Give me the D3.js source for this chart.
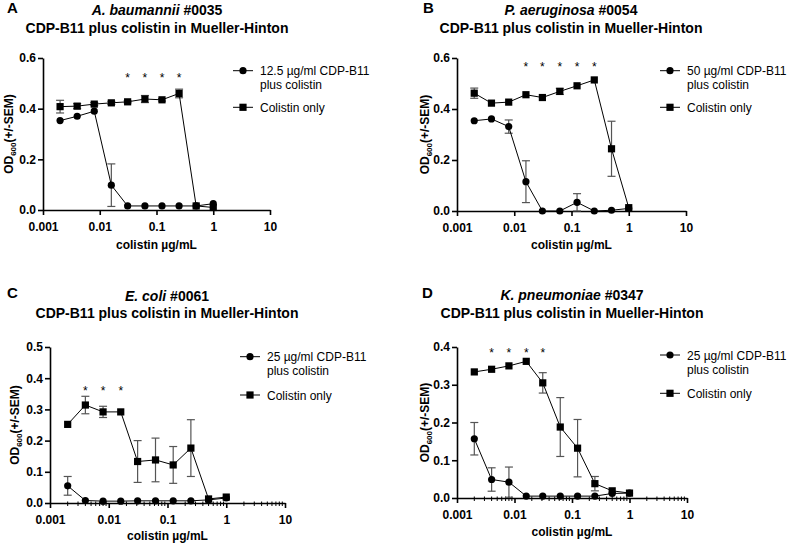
<!DOCTYPE html>
<html><head><meta charset="utf-8">
<script src="https://cdn.jsdelivr.net/npm/d3@7"></script>
<style>body{margin:0;background:#fff}svg{display:block}text{font-family:"Liberation Sans",Arial,sans-serif}</style>
</head><body>
<svg id="c" width="787" height="546"></svg>
<script>
const conc = [0.002,0.004,0.008,0.016,0.031,0.0625,0.125,0.25,0.5,1];
const xTicks = [0.001,0.01,0.1,1,10];
const xTickLabels = ["0.001","0.01","0.1","1","10"];

// Panel A
const aCircle    = [0.353,0.370,0.390,0.098,0.016,0.016,0.016,0.016,0.016,0.025];
const aCircleErr = [0,0,0,0.084,0,0,0,0,0,0];
const aSquare    = [0.408,0.410,0.418,0.423,0.427,0.438,0.435,0.460,0.016,0.010];
const aSquareErr = [0.025,0.010,0.006,0.006,0.004,0.014,0.005,0.017,0,0];
const aStars = [0.031,0.0625,0.125,0.25];
// Panel B
const bCircle    = [0.354,0.361,0.331,0.115,0.0,0.0,0.034,0.0,0.003,0.010];
const bCircleErr = [0,0,0.026,0.082,0,0,0.034,0,0,0];
const bSquare    = [0.462,0.423,0.427,0.456,0.445,0.469,0.491,0.514,0.244,0.013];
const bSquareErr = [0.02,0,0,0,0,0.012,0,0,0.108,0];
const bStars = [0.016,0.031,0.0625,0.125,0.25];
// Panel C
const cCircle    = [0.055,0.008,0.006,0.006,0.007,0.007,0.007,0.007,0.010,0.016];
const cCircleErr = [0.030,0,0,0,0,0,0,0,0,0];
const cSquare    = [0.252,0.314,0.292,0.292,0.133,0.138,0.122,0.176,0.013,0.019];
const cSquareErr = [0,0.028,0.018,0,0.067,0.070,0.059,0.091,0,0];
const cStars = [0.004,0.008,0.016];
// Panel D
const dCircle    = [0.157,0.049,0.042,0.005,0.005,0.005,0.005,0.005,0.012,0.013];
const dCircleErr = [0.043,0.031,0.040,0,0,0,0,0,0,0];
const dSquare    = [0.334,0.341,0.350,0.362,0.305,0.188,0.132,0.038,0.019,0.013];
const dSquareErr = [0,0,0,0,0.027,0.078,0.076,0.019,0,0];
const dStars = [0.004,0.008,0.016,0.031];

const panels = [
  {letter:"A", org:"A. baumannii", num:" #0035", dose:"12.5 µg/ml CDP-B11",
   circle:aCircle, circleErr:aCircleErr, square:aSquare, squareErr:aSquareErr, stars:aStars, starLevel:0.53,
   ymax:0.6, ystep:0.2, minor:false,
   x0:43, x1:270, yb:210, yt:58, lx:233, ly1:70.7, ly2:107.3,
   letterX:7, letterY:13, tx:157, t1y:15, t2y:33, ylabX:13, xtitleY:249},
  {letter:"B", org:"P. aeruginosa", num:" #0054", dose:"50 µg/ml CDP-B11",
   circle:bCircle, circleErr:bCircleErr, square:bSquare, squareErr:bSquareErr, stars:bStars, starLevel:0.574,
   ymax:0.6, ystep:0.2, minor:false,
   x0:457, x1:686, yb:211, yt:58, lx:660, ly1:70.7, ly2:107.3,
   letterX:423, letterY:13, tx:571, t1y:15, t2y:33, ylabX:429, xtitleY:249},
  {letter:"C", org:"E. coli", num:" #0061", dose:"25 µg/ml CDP-B11",
   circle:cCircle, circleErr:cCircleErr, square:cSquare, squareErr:cSquareErr, stars:cStars, starLevel:0.367,
   ymax:0.5, ystep:0.1, minor:true,
   x0:50, x1:285, yb:503, yt:347, lx:240, ly1:356.7, ly2:395,
   letterX:7, letterY:298, tx:167, t1y:301, t2y:318, ylabX:19, xtitleY:540},
  {letter:"D", org:"K. pneumoniae", num:" #0347", dose:"25 µg/ml CDP-B11",
   circle:dCircle, circleErr:dCircleErr, square:dSquare, squareErr:dSquareErr, stars:dStars, starLevel:0.392,
   ymax:0.4, ystep:0.1, minor:true,
   x0:457, x1:687, yb:498, yt:347, lx:660, ly1:355, ly2:393.3,
   letterX:422, letterY:298, tx:572, t1y:300, t2y:318, ylabX:429, xtitleY:536}
];

const svg = d3.select("#c");
const errColor = "#555";

panels.forEach(p => {
  const g = svg.append("g");
  const x = d3.scaleLog().domain([0.001,10]).range([p.x0,p.x1]);
  const y = d3.scaleLinear().domain([0,p.ymax]).range([p.yb,p.yt]);

  // letter + titles
  g.append("text").attr("x",p.letterX).attr("y",p.letterY).attr("font-size",15).attr("font-weight","bold").text(p.letter);
  const t1 = g.append("text").attr("x",p.tx).attr("y",p.t1y).attr("text-anchor","middle").attr("font-size",14).attr("font-weight","bold");
  t1.append("tspan").attr("font-style","italic").text(p.org);
  t1.append("tspan").text(p.num);
  g.append("text").attr("x",p.tx).attr("y",p.t2y).attr("text-anchor","middle").attr("font-size",14).attr("font-weight","bold")
    .text("CDP-B11 plus colistin in Mueller-Hinton");

  // axes
  const xAxis = d3.axisBottom(x).tickValues(xTicks).tickFormat((d,i)=>xTickLabels[i]).tickSize(5).tickPadding(7).tickSizeOuter(0);
  const gx = g.append("g").attr("transform",`translate(0,${p.yb})`).call(xAxis);
  const yTicks = d3.range(0, p.ymax + 1e-9, p.ystep);
  const yAxis = d3.axisLeft(y).tickValues(yTicks).tickFormat(d3.format(".1f")).tickSize(5).tickPadding(2).tickSizeOuter(0);
  const gy = g.append("g").attr("transform",`translate(${p.x0},0)`).call(yAxis);
  [gx,gy].forEach(a=>{
    a.select(".domain").attr("stroke","#000").attr("stroke-width",1.6);
    a.selectAll(".tick line").attr("stroke","#000").attr("stroke-width",1.6);
    a.selectAll(".tick text").attr("font-size",12).attr("font-weight","bold").attr("fill","#000")
      .attr("font-family",'"Liberation Sans",Arial,sans-serif');
  });
  if (p.minor) {
    const minors = [];
    [0.001,0.01,0.1,1].forEach(dec => { for (let k=2;k<=9;k++) minors.push(dec*k); });
    g.append("g").selectAll("line").data(minors).join("line")
      .attr("x1",d=>x(d)).attr("x2",d=>x(d)).attr("y1",p.yb-1.5).attr("y2",p.yb+3)
      .attr("stroke","#000").attr("stroke-width",1);
  }

  // axis titles
  g.append("text").attr("x",(p.x0+p.x1)/2).attr("y",p.xtitleY).attr("text-anchor","middle")
    .attr("font-size",12).attr("font-weight","bold").text("colistin µg/mL");
  const yl = g.append("text").attr("transform",`translate(${p.ylabX},${(p.yb+p.yt)/2}) rotate(-90)`)
    .attr("text-anchor","middle").attr("font-size",12).attr("font-weight","bold");
  yl.append("tspan").text("OD");
  yl.append("tspan").attr("font-size",8).attr("dy",3).text("600");
  yl.append("tspan").attr("dy",-3).text("(+/-SEM)");

  // series
  const series = [
    {vals:p.circle, err:p.circleErr, shape:"circle"},
    {vals:p.square, err:p.squareErr, shape:"square"}
  ];
  series.forEach(s => {
    const pts = conc.map((c,i)=>({c, v:s.vals[i], e:s.err[i]}));
    // error bars
    const eb = g.append("g").attr("stroke",errColor).attr("stroke-width",1.2);
    pts.filter(d=>d.e>0).forEach(d=>{
      const lo = Math.max(0,d.v-d.e), hi = d.v+d.e;
      eb.append("line").attr("x1",x(d.c)).attr("x2",x(d.c)).attr("y1",y(lo)).attr("y2",y(hi));
      eb.append("line").attr("x1",x(d.c)-4).attr("x2",x(d.c)+4).attr("y1",y(hi)).attr("y2",y(hi));
      eb.append("line").attr("x1",x(d.c)-4).attr("x2",x(d.c)+4).attr("y1",y(lo)).attr("y2",y(lo));
    });
    g.append("path").datum(pts).attr("fill","none").attr("stroke","#000").attr("stroke-width",1)
      .attr("d", d3.line().x(d=>x(d.c)).y(d=>y(d.v)));
    if (s.shape==="circle") {
      g.append("g").selectAll("circle").data(pts).join("circle")
        .attr("cx",d=>x(d.c)).attr("cy",d=>y(d.v)).attr("r",3.6).attr("fill","#000");
    } else {
      g.append("g").selectAll("rect").data(pts).join("rect")
        .attr("x",d=>x(d.c)-3.6).attr("y",d=>y(d.v)-3.6).attr("width",7.2).attr("height",7.2).attr("fill","#000");
    }
  });

  // stars
  g.append("g").selectAll("text").data(p.stars).join("text")
    .attr("x",d=>x(d)).attr("y",y(p.starLevel)+6.5).attr("text-anchor","middle").attr("font-size",12).text("*");

  // legend
  const lg = g.append("g");
  lg.append("line").attr("x1",p.lx).attr("x2",p.lx+20).attr("y1",p.ly1).attr("y2",p.ly1).attr("stroke","#000").attr("stroke-width",1);
  lg.append("circle").attr("cx",p.lx+10).attr("cy",p.ly1).attr("r",3.6).attr("fill","#000");
  lg.append("text").attr("x",p.lx+27).attr("y",p.ly1+4.5).attr("font-size",12).text(p.dose);
  lg.append("text").attr("x",p.lx+27).attr("y",p.ly1+18.5).attr("font-size",12).text("plus colistin");
  lg.append("line").attr("x1",p.lx).attr("x2",p.lx+20).attr("y1",p.ly2).attr("y2",p.ly2).attr("stroke","#000").attr("stroke-width",1);
  lg.append("rect").attr("x",p.lx+10-3.6).attr("y",p.ly2-3.6).attr("width",7.2).attr("height",7.2).attr("fill","#000");
  lg.append("text").attr("x",p.lx+27).attr("y",p.ly2+4.5).attr("font-size",12).text("Colistin only");
});
</script>
</body></html>
